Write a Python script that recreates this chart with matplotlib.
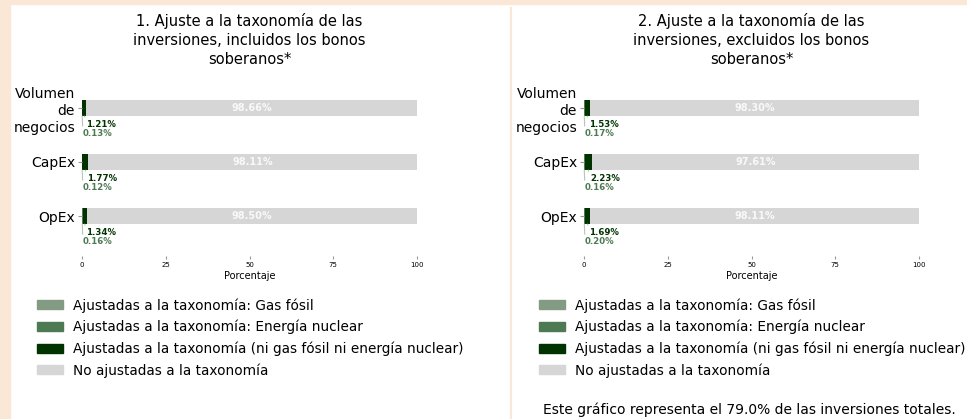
import matplotlib
matplotlib.use("Agg")
import matplotlib.pyplot as plt
from matplotlib.patches import Patch, Rectangle
from matplotlib.lines import Line2D

categories = ["Volumen\nde\nnegocios", "CapEx", "OpEx"]

titles = ["1. Ajuste a la taxonomía de las\ninversiones, incluidos los bonos\nsoberanos*",
          "2. Ajuste a la taxonomía de las\ninversiones, excluidos los bonos\nsoberanos*"]

# per panel: gas fósil, energía nuclear, otras ajustadas, no ajustadas
gas_incl = [0.0, 0.0, 0.0]
nuclear_incl = [0.13, 0.12, 0.16]
aligned_incl = [1.21, 1.77, 1.34]
not_aligned_incl = [98.66, 98.11, 98.50]

gas_excl = [0.0, 0.0, 0.0]
nuclear_excl = [0.17, 0.16, 0.20]
aligned_excl = [1.53, 2.23, 1.69]
not_aligned_excl = [98.30, 97.61, 98.11]

xticks = [0, 25, 50, 75, 100]
legend_labels = ["Ajustadas a la taxonomía: Gas fósil",
                 "Ajustadas a la taxonomía: Energía nuclear",
                 "Ajustadas a la taxonomía (ni gas fósil ni energía nuclear)",
                 "No ajustadas a la taxonomía"]
footnote = "Este gráfico representa el 79.0% de las inversiones totales."

C_GAS = "#839b83"
C_NUC = "#4d7a52"
C_ALI = "#003300"
C_NOT = "#d6d6d6"
PEACH = "#fbe7d6"
W, H = 967, 419

fig = plt.figure(figsize=(W / 100, H / 100), dpi=100)

# peach frame strips and divider
fig.patches.append(Rectangle((0, 0), 10 / W, 1, transform=fig.transFigure,
                             color=PEACH, zorder=0))
fig.patches.append(Rectangle((0, 1 - 4 / H), 1, 4 / H, transform=fig.transFigure,
                             color=PEACH, zorder=0))
fig.add_artist(Line2D([510.5 / W, 510.5 / W], [0, 1 - 8 / H], transform=fig.transFigure,
                      color=PEACH, lw=1.5))


def panel(left_px, title, gas, nuc, ali, notal):
    ax = fig.add_axes([left_px / W, (H - 256) / H, 335 / W, 188 / H])
    y = range(len(categories))
    h = 0.3
    ax.barh(y, gas, height=h, color=C_GAS)
    left = list(gas)
    ax.barh(y, nuc, left=left, height=h, color=C_NUC)
    left = [a + b for a, b in zip(left, nuc)]
    ax.barh(y, ali, left=left, height=h, color=C_ALI)
    left = [a + b for a, b in zip(left, ali)]
    ax.barh(y, notal, left=left, height=h, color=C_NOT)
    for i in y:
        ax.text(left[i] + notal[i] / 2, i, f"{notal[i]:.2f}%", ha="center", va="center",
                color="white", fontsize=7, fontweight="bold", alpha=0.85)
        xa = gas[i] + nuc[i] + ali[i] / 2
        ax.annotate(f"{ali[i]:.2f}%", xy=(xa, i + h / 2), xytext=(1.2, -6),
                    textcoords="offset points", fontsize=6.2, fontweight="bold",
                    color=C_ALI, ha="left", va="center",
                    arrowprops=dict(arrowstyle="-", color="#b5c6b5", lw=0.8,
                                    shrinkA=0, shrinkB=3, relpos=(0, 0.8)))
        xn = gas[i] + nuc[i] / 2
        ax.annotate(f"{nuc[i]:.2f}%", xy=(xn, i + h / 2), xytext=(0.5, -12.5),
                    textcoords="offset points", fontsize=6.2, fontweight="bold",
                    color=C_NUC, ha="left", va="center",
                    arrowprops=dict(arrowstyle="-", color="#b5c6b5", lw=0.8,
                                    shrinkA=0, shrinkB=0, relpos=(0, 0.5)))
    ax.set_xlim(0, 100)
    ax.set_ylim(2.74, -0.74)
    ax.set_yticks(list(y))
    ax.set_yticklabels(categories, fontsize=10, ha="right")
    for t in ax.get_yticklabels():
        t.set_linespacing(1.3)
    ax.set_xticks(xticks)
    ax.set_xticklabels([str(t) for t in xticks], fontsize=5)
    ax.tick_params(axis="y", length=3, color="#999999", pad=2)
    ax.tick_params(axis="x", length=2, color="#999999", pad=2)
    ax.set_xlabel("Porcentaje", fontsize=7, labelpad=2.5)
    for s in ax.spines.values():
        s.set_visible(False)
    cx = (left_px + 167.5) / W
    fig.text(cx, 1 - 13 / H, title, ha="center", va="top", fontsize=10.5, linespacing=1.35)
    return ax


panel(82, titles[0], gas_incl, nuclear_incl, aligned_incl, not_aligned_incl)
panel(584, titles[1], gas_excl, nuclear_excl, aligned_excl, not_aligned_excl)

handles = [Patch(color=c) for c in (C_GAS, C_NUC, C_ALI, C_NOT)]
for lx in (37, 539):
    fig.legend(handles, legend_labels, loc="upper left",
               bbox_to_anchor=(lx / W, 1 - 298 / H), frameon=False, fontsize=9.8,
               handlelength=1.9, handleheight=0.65, handletextpad=0.72,
               labelspacing=0.53, borderaxespad=0, borderpad=0)

fig.text(749 / W, 1 - 410 / H, footnote, ha="center", va="center", fontsize=10)

fig.savefig("out.png", dpi=100, facecolor="white")
